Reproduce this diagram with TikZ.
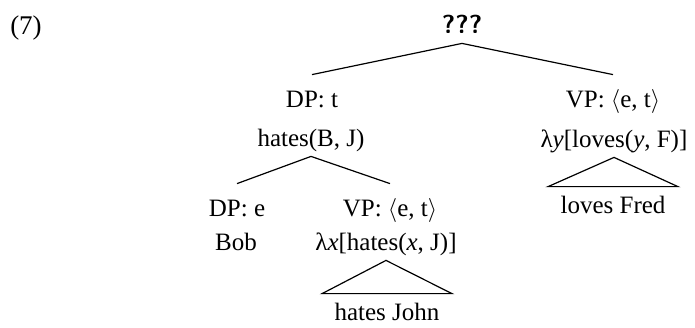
\documentclass[tikz,border=0pt]{standalone}
\usepackage{fontspec}
\setmainfont{Liberation Serif}
\newcommand{\lam}{λ}

\begin{document}
\begin{tikzpicture}[x=0.5pt,y=-0.5pt]
	\tikzstyle{every node}=[font=\fontsize{12.5}{15}\selectfont, anchor=base, inner xsep=1pt, inner ysep=2pt]
	\tikzstyle{catlbl}=[text height=14pt, text depth=3pt]
	\tikzstyle{semlbl}=[text height=8pt, text depth=3pt]
	\tikzstyle{leaflbl}=[text height=11pt, text depth=3pt, minimum width=64.5pt]
	\useasboundingbox (0,0) rectangle (695,327);
	\node (ex) at (26,34) {\fontsize{13.5}{15}\selectfont(7)};
	\node [semlbl] (root) at (462,33) {\fontsize{13}{15}\selectfont\sffamily\bfseries ???};
	% left branch
	\node [catlbl] (dpt) at (312,107) {DP: t};
	\node [semlbl] (dptsem) at (311,146) {hates(B, J)};
	\node [catlbl] (dpe) at (237,216) {DP: e};
	\node [semlbl] (dpesem) at (236,250) {Bob};
	\node [catlbl] (vpx) at (390,216) {VP: $\langle$e, t$\rangle$};
	\node [semlbl] (vpxsem) at (386,250) {\lam\textit{x}[hates(\textit{x}, J)]};
	\node [leaflbl] (hj) at (387,320) {hates John};
	% right branch
	\node [catlbl] (vpy) at (613,107) {VP: $\langle$e, t$\rangle$};
	\node [semlbl] (vpysem) at (614,147) {\lam\textit{y}[loves(\textit{y}, F)]};
	\node [leaflbl] (lf) at (613,213) {loves Fred};
	\draw [line width=0.6pt] (root.south) -- (dpt.north);
	\draw [line width=0.6pt] (root.south) -- (vpy.north);
	\draw [line width=0.6pt] (dptsem.south) -- (dpe.north);
	\draw [line width=0.6pt] (dptsem.south) -- (vpx.north);
	\draw [line width=0.6pt] (vpxsem.south) -- (hj.north west) -- (hj.north east) -- cycle;
	\draw [line width=0.6pt] (vpysem.south) -- (lf.north west) -- (lf.north east) -- cycle;
\end{tikzpicture}
\end{document}
